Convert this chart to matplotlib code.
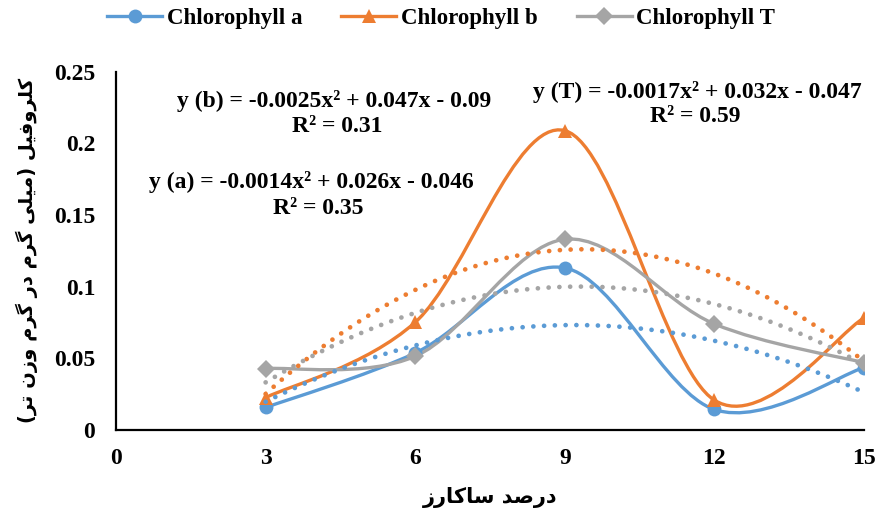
import numpy as np
import matplotlib
matplotlib.use("Agg")
import matplotlib.pyplot as plt
from matplotlib.path import Path
from matplotlib.patches import PathPatch
from matplotlib.lines import Line2D

# ---- data ----
sucrose = [3, 6, 9, 12, 15]
chl_a = [0.0154, 0.0535, 0.113, 0.0140, 0.0433]
chl_b = [0.0223, 0.0750, 0.209, 0.0205, 0.0780]
chl_t = [0.0426, 0.0512, 0.133, 0.0738, 0.0467]
series_names = ["Chlorophyll a", "Chlorophyll b", "Chlorophyll T"]
colors = ["#5B9BD5", "#ED7D31", "#A5A5A5"]
markers = ["o", "^", "D"]
x_ticks = [0, 3, 6, 9, 12, 15]
y_ticks = [0, 0.05, 0.1, 0.15, 0.2, 0.25]
y_tick_labels = ["0", "0.05", "0.1", "0.15", "0.2", "0.25"]
eq_b = ["y (b) = -0.0025x\u00b2 + 0.047x - 0.09", "R\u00b2 = 0.31"]
eq_a = ["y (a) = -0.0014x\u00b2 + 0.026x - 0.046", "R\u00b2 = 0.35"]
eq_t = ["y (T) = -0.0017x\u00b2 + 0.032x - 0.047", "R\u00b2 = 0.59"]

# Persian labels written with presentation forms (logical order), shown visually reversed
xlabel_logical = "\uFEA9\uFEAD\uFEBB\uFEAA \uFEB3\uFE8E\uFB90\uFE8E\uFEAD\uFEAF"
ylabel_logical = ("\uFB90\uFEE0\uFEAE\uFEED\uFED3\uFEF4\uFEDE "
                  "(\uFEE3\uFEF4\uFEE0\uFEF0 "
                  "\uFB94\uFEAE\uFEE1 "
                  "\uFEA9\uFEAD "
                  "\uFB94\uFEAE\uFEE1 "
                  "\uFEED\uFEAF\uFEE5 "
                  "\uFE97\uFEAE)")


def visual(s):
    swap = {"(": ")", ")": "("}
    return "".join(swap.get(c, c) for c in reversed(s))


def smooth_path(xs, ys):
    pts = list(zip(xs, ys))
    n = len(pts)
    verts = [pts[0]]
    codes = [Path.MOVETO]
    for i in range(n - 1):
        p0 = pts[i - 1] if i > 0 else pts[i]
        p1 = pts[i]
        p2 = pts[i + 1]
        p3 = pts[i + 2] if i + 2 < n else pts[i + 1]
        c1 = (p1[0] + (p2[0] - p0[0]) / 6, p1[1] + (p2[1] - p0[1]) / 6)
        c2 = (p2[0] - (p3[0] - p1[0]) / 6, p2[1] - (p3[1] - p1[1]) / 6)
        verts += [c1, c2, p2]
        codes += [Path.CURVE4] * 3
    return Path(verts, codes)


serif = "Liberation Serif"
arab = ["DejaVu Sans"]
msizes = {"o": 10, "^": 10.5, "D": 9}

fig = plt.figure(figsize=(8.77, 5.16), dpi=100)
ax = fig.add_axes([0.1323, 0.1676, 0.9852 - 0.1323, 0.8605 - 0.1676])

all_series = [chl_a, chl_b, chl_t]
for ys, c, m in zip(all_series, colors, markers):
    ax.add_patch(PathPatch(smooth_path(sucrose, ys), fill=False, edgecolor=c,
                           lw=2.4, capstyle="round", joinstyle="round", zorder=2))
    ax.plot(sucrose, ys, linestyle="none", marker=m, color=c, markersize=msizes[m],
            markeredgewidth=0, zorder=2.5)

xx = np.linspace(3, 15, 200)
for ys, c in zip(all_series, colors):
    coef = np.polyfit(sucrose, ys, 2)
    ax.plot(xx, np.polyval(coef, xx), color=c, lw=3.4,
            linestyle=(0, (0.01, 2.27)), dash_capstyle="round", zorder=3)

ax.set_xlim(0, 15)
ax.set_ylim(0, 0.25)
ax.set_xticks(x_ticks)
ax.set_xticklabels([str(v) for v in x_ticks])
ax.set_yticks(y_ticks)
ax.set_yticklabels(y_tick_labels)
ax.tick_params(length=0, labelsize=17)
ax.tick_params(axis="x", pad=13)
ax.tick_params(axis="y", pad=15)
for lab in ax.get_xticklabels() + ax.get_yticklabels():
    lab.set_fontfamily(serif)
    lab.set_fontweight("bold")
for s in ["top", "right"]:
    ax.spines[s].set_visible(False)
for s in ["left", "bottom"]:
    ax.spines[s].set_linewidth(1.6)
    ax.spines[s].set_color("black")


def px_text(px, py, txt):
    fx, fy = px / 877, 1 - py / 516
    fig.text(fx, fy, txt, ha="center", va="center", fontsize=17,
             fontfamily=serif, fontweight="bold")


px_text(334, 101, eq_b[0]); px_text(337, 126, eq_b[1])
px_text(311, 182, eq_a[0]); px_text(318, 208, eq_a[1])
px_text(697, 92, eq_t[0]); px_text(695, 117, eq_t[1])

fig.text(490 / 877, 1 - 497 / 516, visual(xlabel_logical), ha="center", va="center",
         fontsize=15, fontfamily=arab, fontweight="bold")
fig.text(27 / 877, 1 - 250 / 516, visual(ylabel_logical), ha="center", va="center",
         rotation=90, fontsize=14, fontfamily=arab, fontweight="bold")

handles = [Line2D([0], [0], color=c, lw=2.4, marker=m, markersize=msizes[m],
                  markeredgewidth=0)
           for c, m in zip(colors, markers)]
fig.legend(handles, series_names, loc="center", bbox_to_anchor=(0.503, 0.965),
           ncol=3, frameon=False, handlelength=2.4, handletextpad=0.2,
           columnspacing=1.7, prop={"family": serif, "weight": "bold", "size": 16.5})

fig.savefig("out.png", dpi=100)
